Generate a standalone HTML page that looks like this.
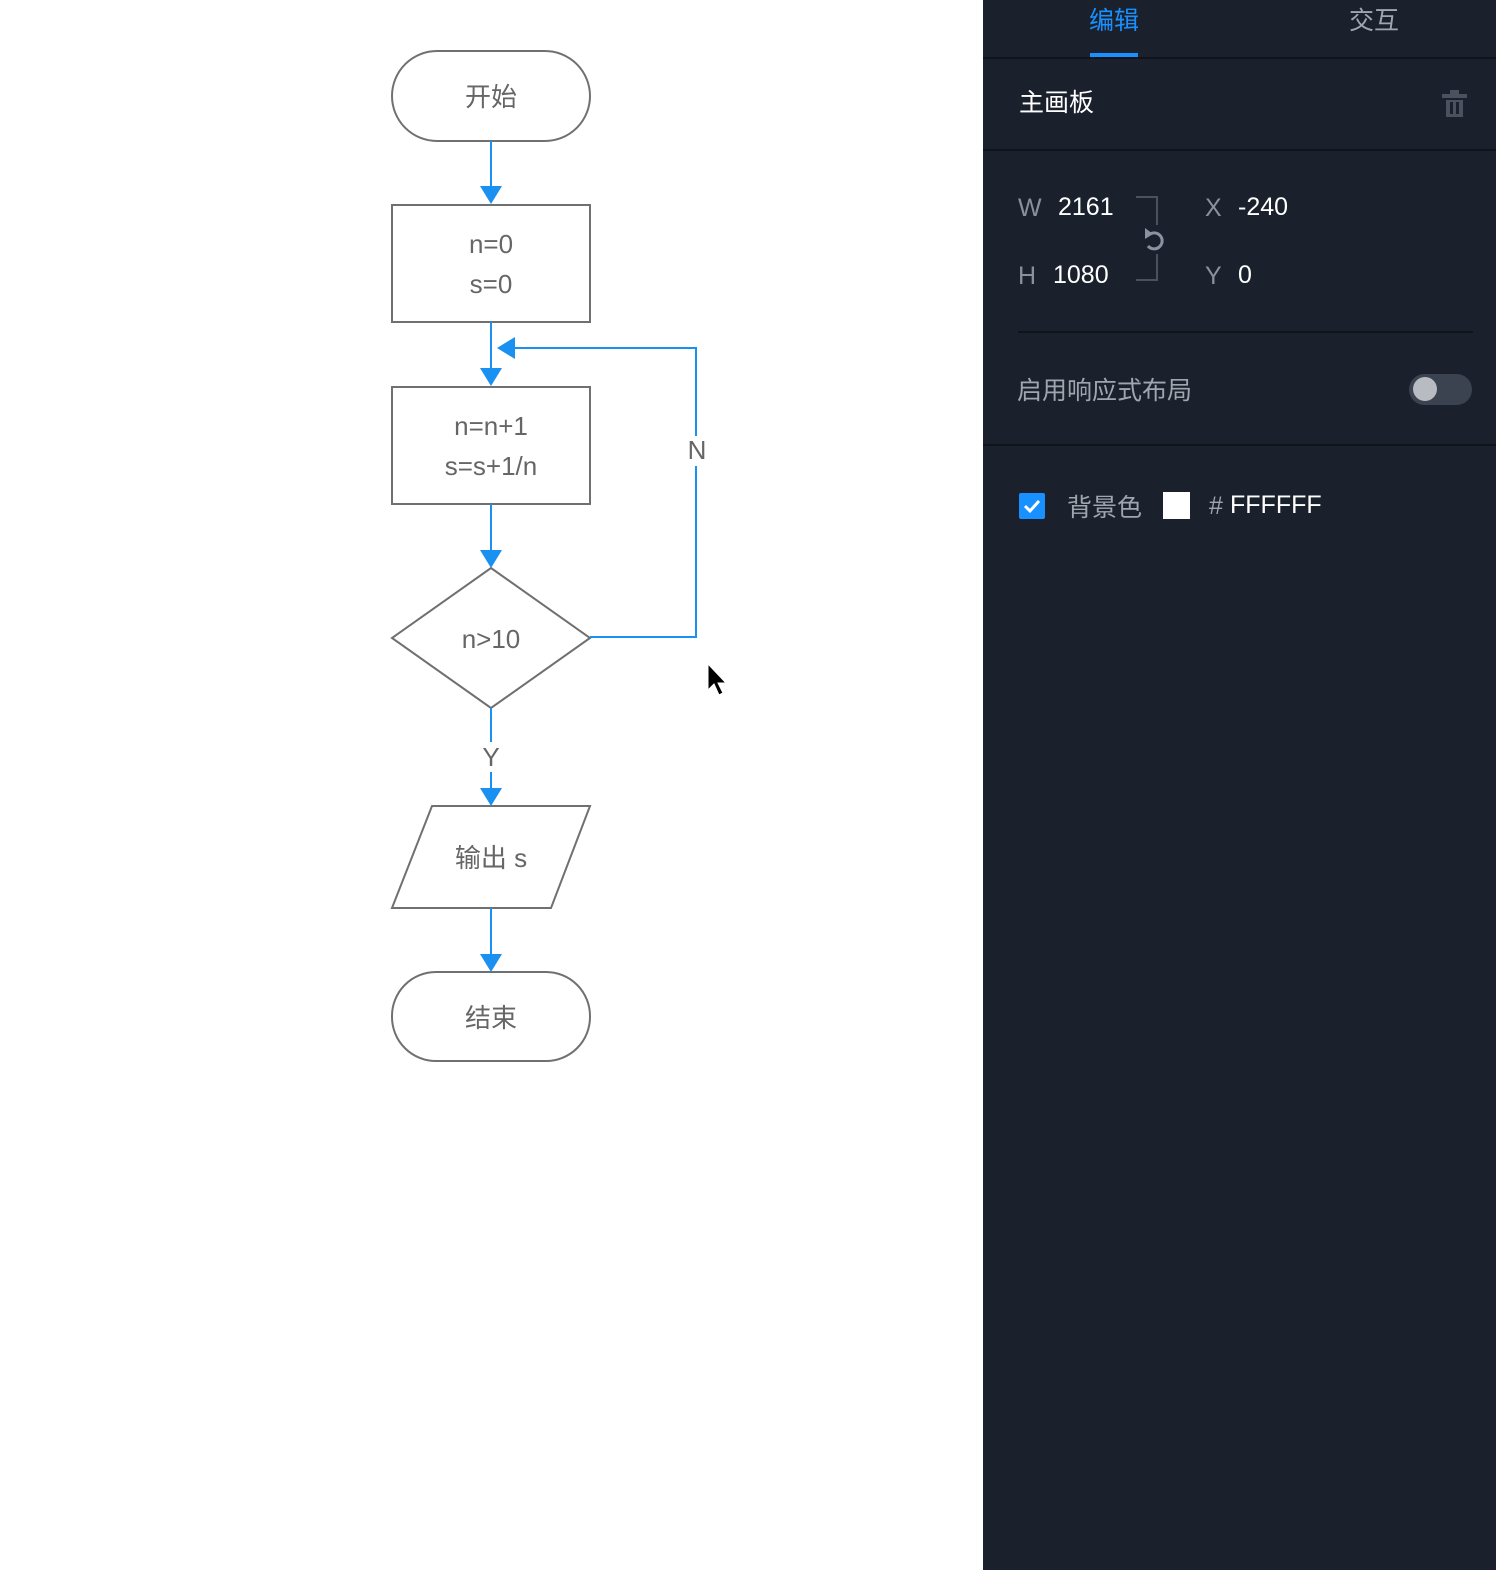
<!DOCTYPE html>
<html><head><meta charset="utf-8"><style>
body{margin:0;width:1496px;height:1570px;background:#fff;overflow:hidden;font-family:"Liberation Sans","Noto Sans CJK SC",sans-serif;}
</style></head><body>
<svg width="1496" height="1570" style="position:absolute;left:0;top:0" font-family="Liberation Sans, Noto Sans CJK SC, sans-serif">
<rect x="0" y="0" width="983" height="1570" fill="#fff"/>
<g fill="#fff" stroke="#707070" stroke-width="2">
<rect x="392" y="51" width="198" height="90" rx="45"/>
<rect x="392" y="205" width="198" height="117"/>
<rect x="392" y="387" width="198" height="117"/>
<polygon points="491,568 590,638 491,708 392,638"/>
<polygon points="432,806 590,806 551,908 392,908"/>
<rect x="392" y="972" width="198" height="89" rx="44"/>
</g>
<g stroke="#1a90f0" stroke-width="2" fill="none">
<line x1="491" y1="141" x2="491" y2="190"/>
<line x1="491" y1="322" x2="491" y2="372"/>
<line x1="491" y1="504" x2="491" y2="552"/>
<line x1="491" y1="708" x2="491" y2="790"/>
<line x1="491" y1="908" x2="491" y2="956"/>
<polyline points="590,637 696,637 696,348 512,348"/>
</g>
<g fill="#1a90f0">
<polygon points="480,186 502,186 491,204"/>
<polygon points="480,368 502,368 491,386"/>
<polygon points="480,550 502,550 491,568"/>
<polygon points="480,788 502,788 491,806"/>
<polygon points="480,954 502,954 491,972"/>
<polygon points="515,337 515,359 497,348"/>
</g>
<rect x="684" y="436" width="26" height="30" fill="#fff"/>
<rect x="478" y="742" width="26" height="30" fill="#fff"/>
<g fill="#666" font-size="26" text-anchor="middle">
<text x="491" y="106">开始</text>
<text x="491" y="253">n=0</text>
<text x="491" y="293">s=0</text>
<text x="491" y="435">n=n+1</text>
<text x="491" y="475">s=s+1/n</text>
<text x="491" y="648">n&gt;10</text>
<text x="491" y="867">输出 s</text>
<text x="491" y="1027">结束</text>
<text x="697" y="459">N</text>
<text x="491" y="766">Y</text>
</g>
<polygon points="708,664 708,690 714,684 719,695 723,693 718,683 726,683" fill="#000" stroke="#fff" stroke-width="1"/>
<rect x="983" y="0" width="513" height="1570" fill="#1b212c"/>
<g stroke="#0f141b" stroke-width="2">
<line x1="983" y1="58" x2="1496" y2="58"/>
<line x1="983" y1="150" x2="1496" y2="150"/>
<line x1="1018" y1="332" x2="1473" y2="332"/>
<line x1="983" y1="445" x2="1496" y2="445"/>
</g>
<rect x="1090" y="53" width="48" height="4" fill="#1890ff"/>
<text x="1114" y="29" fill="#1890ff" font-size="25" text-anchor="middle">编辑</text>
<text x="1374" y="29" fill="#a0a6b0" font-size="25" text-anchor="middle">交互</text>
<text x="1019" y="111" fill="#fff" font-size="25">主画板</text>
<g fill="#4a5260"><rect x="1442" y="94" width="25" height="4"/><rect x="1450" y="90" width="9" height="4"/><rect x="1446" y="100" width="17" height="17"/></g>
<g fill="#1b212c"><rect x="1450" y="102" width="3" height="12"/><rect x="1456" y="102" width="3" height="12"/></g>
<g font-size="25">
<text x="1018" y="216" fill="#8a919c">W</text><text x="1058" y="215" fill="#fff">2161</text>
<text x="1018" y="284" fill="#8a919c">H</text><text x="1053" y="283" fill="#fff">1080</text>
<text x="1205" y="216" fill="#8a919c">X</text><text x="1238" y="215" fill="#fff">-240</text>
<text x="1205" y="284" fill="#8a919c">Y</text><text x="1238" y="283" fill="#fff">0</text>
<text x="1017" y="399" fill="#a0a6b0">启用响应式布局</text>
<text x="1067" y="516" fill="#a0a6b0">背景色</text>
<text x="1209" y="514" fill="#a0a6b0">#</text><text x="1230" y="513" fill="#fff">FFFFFF</text>
</g>
<polyline points="1136,197 1157,197 1157,225" fill="none" stroke="#4a5260" stroke-width="2"/>
<polyline points="1136,280 1157,280 1157,254" fill="none" stroke="#4a5260" stroke-width="2"/>
<path d="M1150 234 A8 8 0 1 1 1148 246" fill="none" stroke="#8a93a2" stroke-width="3"/>
<polygon points="1145,228 1153,234 1145,239" fill="#8a93a2"/>
<rect x="1409" y="374" width="63" height="31" rx="15.5" fill="#3b4350"/>
<circle cx="1425" cy="389" r="12" fill="#b8bcc2"/>
<rect x="1019" y="493" width="26" height="26" rx="2" fill="#1890ff"/>
<polyline points="1025,506 1030,511 1039,501" fill="none" stroke="#fff" stroke-width="3"/>
<rect x="1163" y="492" width="27" height="27" fill="#fff"/>
</svg>
</body></html>
